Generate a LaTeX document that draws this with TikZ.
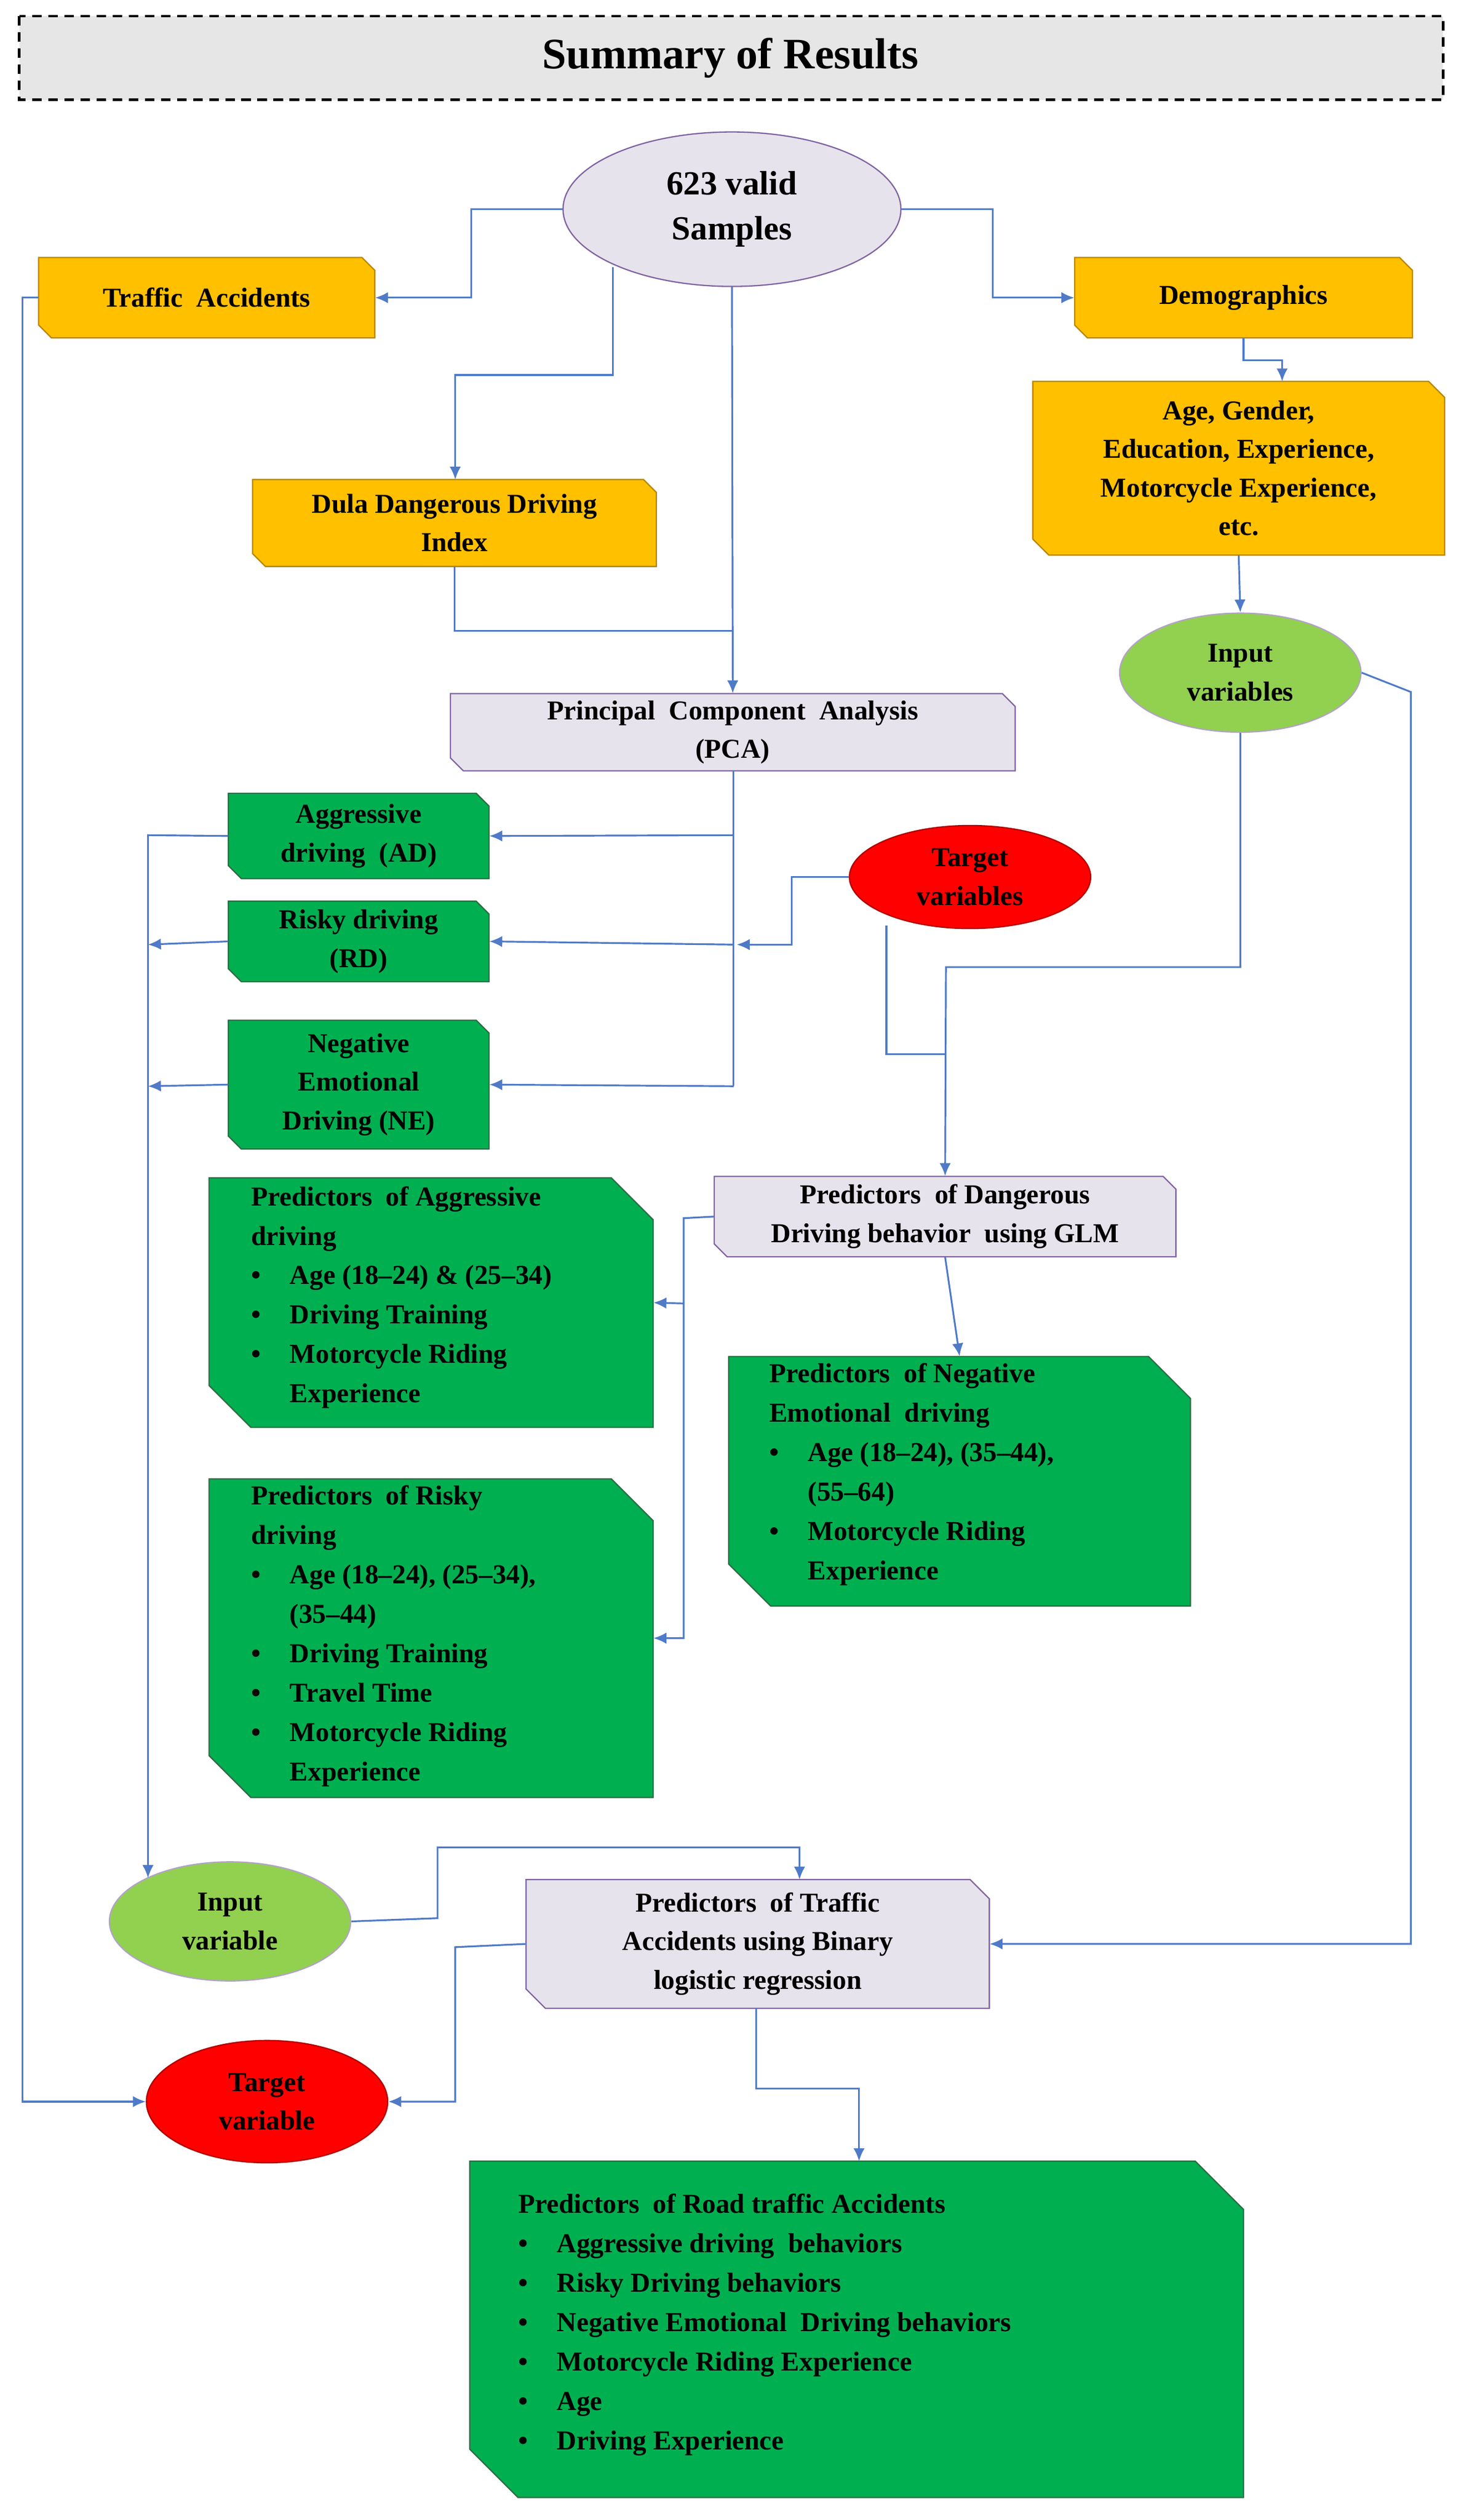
\documentclass[tikz,border=0pt]{standalone}
\usepackage{fontspec}
\setmainfont{Liberation Serif}
\usetikzlibrary{shapes.geometric,arrows.meta}
\definecolor{org}{HTML}{FFC000}
\definecolor{orgb}{HTML}{B8860B}
\definecolor{grn}{HTML}{00B050}
\definecolor{grnb}{HTML}{2E6B45}
\definecolor{lav}{HTML}{E7E3EC}
\definecolor{lavb}{HTML}{8064A2}
\definecolor{lgr}{HTML}{92D050}
\definecolor{lnc}{HTML}{4F7AC7}
\definecolor{ttl}{HTML}{E7E6E6}
\newcommand\snipbox[7]{% name, left, top, right, bottom, chamfer, style
  \draw[#7] (#2,#3) -- ({#4-#6},#3) -- (#4,{#3+#6}) -- (#4,#5) -- ({#2+#6},#5) -- (#2,{#5-#6}) -- cycle;
  \node[minimum width={(#4-#2)*1pt}, minimum height={(#5-#3)*1pt}, inner sep=0pt] (#1) at ({(#2+#4)/2},{(#3+#5)/2}) {};}
\newcommand\itm[1]{\makebox[24pt][l]{\textbullet}#1}
\newcommand\cnt{\hspace*{24pt}}
\tikzset{
  txt/.style={font=\fontsize{17}{24}\selectfont\bfseries, align=center, inner sep=0pt},
  ltxt/.style={font=\fontsize{17}{24.5}\selectfont\bfseries, align=left, inner sep=0pt, anchor=north west},
  ob/.style={fill=org, draw=orgb, line width=0.8pt},
  gb/.style={fill=grn, draw=grnb, line width=0.8pt},
  lb/.style={fill=lav, draw=lavb, line width=0.8pt},
  ell/.style={ellipse, line width=0.8pt, inner sep=0pt, font=\fontsize{17}{24}\selectfont\bfseries, align=center},
  ln/.style={draw=lnc, line width=1.1pt},
  ar/.style={ln, -{Latex[length=8pt,width=7pt]}},
}
\begin{document}
\begin{tikzpicture}[x=1pt,y=-1pt]
\useasboundingbox (0,0) rectangle (910,1566);
% title
\draw[fill=ttl, dashed, line width=1.6pt, dash pattern=on 6pt off 4pt] (12,10) rectangle (897,62);
\node[font=\fontsize{27}{30}\selectfont\bfseries] (title) at (454,36) {Summary of Results};
% ellipses
\node[ell, fill=lav, draw=lavb, minimum width=210pt, minimum height=96pt, font=\fontsize{21}{28}\selectfont\bfseries] (sam) at (455,130) {623 valid\\Samples};
\node[ell, fill=lgr, draw=lavb!60, minimum width=150pt, minimum height=74pt] (iv) at (771,418) {Input\\variables};
\node[ell, fill=red, draw=red!70!black, minimum width=150pt, minimum height=64pt] (tv) at (603,545) {Target\\variables};
\node[ell, fill=lgr, draw=lavb!60, minimum width=150pt, minimum height=74pt] (iv2) at (143,1194) {Input\\variable};
\node[ell, fill=red, draw=red!70!black, minimum width=150pt, minimum height=76pt] (tv2) at (166,1306) {Target\\variable};
% orange boxes
\snipbox{ta}{24}{160}{233}{210}{8}{ob}
\node[txt] (tat) at (ta) {Traffic\ \ Accidents};
\snipbox{dem}{668}{160}{878}{210}{8}{ob}
\node[txt] (demt) at (dem) {Demographics};
\snipbox{age}{642}{237}{898}{345}{10}{ob}
\node[txt] (aget) at (age) {Age, Gender,\\Education,\ Experience,\\Motorcycle Experience,\\etc.};
\snipbox{dula}{157}{298}{408}{352}{8}{ob}
\node[txt] (dulat) at (dula) {Dula Dangerous Driving\\Index};
% lavender boxes
\snipbox{pca}{280}{431}{631}{479}{8}{lb}
\node[txt] (pcat) at (pca) {Principal\ \ Component\ \ Analysis\\(PCA)};
\snipbox{glm}{444}{731}{731}{781}{8}{lb}
\node[txt] (glmt) at (glm) {Predictors\ \ of Dangerous\\Driving behavior\ \ using GLM};
\snipbox{bin}{327}{1168}{615}{1248}{12}{lb}
\node[txt] (bint) at (bin) {Predictors\ \ of Traffic\\Accidents using Binary\\logistic regression};
% green small
\snipbox{ad}{142}{493}{304}{546}{8}{gb}
\node[txt] (adt) at (ad) {Aggressive\\driving\ \ (AD)};
\snipbox{rd}{142}{560}{304}{610}{8}{gb}
\node[txt] (rdt) at (rd) {Risky driving\\(RD)};
\snipbox{ne}{142}{634}{304}{714}{8}{gb}
\node[txt] (net) at (ne) {Negative\\Emotional\\Driving (NE)};
% green big
\snipbox{pa}{130}{732}{406}{887}{26}{gb}
\node[ltxt] (pat) at (156,737) {Predictors\ \ of Aggressive\\driving\\\itm{Age (18--24) \& (25--34)}\\\itm{Driving Training}\\\itm{Motorcycle Riding}\\\cnt Experience};
\snipbox{pr}{130}{919}{406}{1117}{26}{gb}
\node[ltxt] (prt) at (156,923) {Predictors\ \ of Risky\\driving\\\itm{Age (18--24), (25--34),}\\\cnt(35--44)\\\itm{Driving Training}\\\itm{Travel Time}\\\itm{Motorcycle Riding}\\\cnt Experience};
\snipbox{pn}{453}{843}{740}{998}{26}{gb}
\node[ltxt] (pnt) at (478,847) {Predictors\ \ of Negative\\Emotional\ \ driving\\\itm{Age (18--24), (35--44),}\\\cnt(55--64)\\\itm{Motorcycle Riding}\\\cnt Experience};
\snipbox{rt}{292}{1343}{773}{1552}{30}{gb}
\node[ltxt] (rtt) at (322,1363) {Predictors\ \ of Road traffic Accidents\\\itm{Aggressive driving\ \ behaviors}\\\itm{Risky Driving behaviors}\\\itm{Negative Emotional\ \ Driving behaviors}\\\itm{Motorcycle Riding Experience}\\\itm{Age}\\\itm{Driving Experience}};
% connectors
\draw[ar] (sam.west) -- (293,130) |- (ta.east);
\draw[ar] (sam.east) -- (617,130) |- (dem.west);
\coordinate (s1) at (381,166);
\draw[ar] (s1) |- (283,233) -- (283,298);
\draw[ar] (sam.south) -- (pca.north);
\draw[ln] (dula.south) |- (455,392);
\draw[ar] (ta.west) -- (14,185) |- (tv2.west);
\draw[ar] (dem.south) -- (773,224) -| (797,237);
\draw[ar] (age.south) -- (iv.north);
\draw[ar] (iv.east) -- (877,430) |- (bin.east);
\draw[ar] (iv.south) |- (588,601) -- (glm.north);
\draw[ln] (551,575) |- (588,655);
\draw[ln] (456,479) -- (456,675);
\draw[ar] (456,519) -- (ad.east);
\draw[ar] (456,587) -- (rd.east);
\draw[ar] (456,675) -- (ne.east);
\draw[ar] (tv.west) -- (492,545) |- (458,587);
\draw[ar] (ad.west) -- (92,519) -- (92,1167);
\draw[ar] (rd.west) -- (92,587);
\draw[ar] (ne.west) -- (92,675);
\draw[ar] (glm.west) -- (425,757) |- (pr.east);
\draw[ar] (425,810) -- (pa.east);
\draw[ar] (glm.south) -- (pn.north);
\draw[ar] (iv2.east) -- (272,1192) |- (497,1148) -- (497,1168);
\draw[ar] (bin.west) -- (283,1210) |- (tv2.east);
\draw[ar] (470,1248) |- (534,1298) -- (534,1343);
\end{tikzpicture}
\end{document}
